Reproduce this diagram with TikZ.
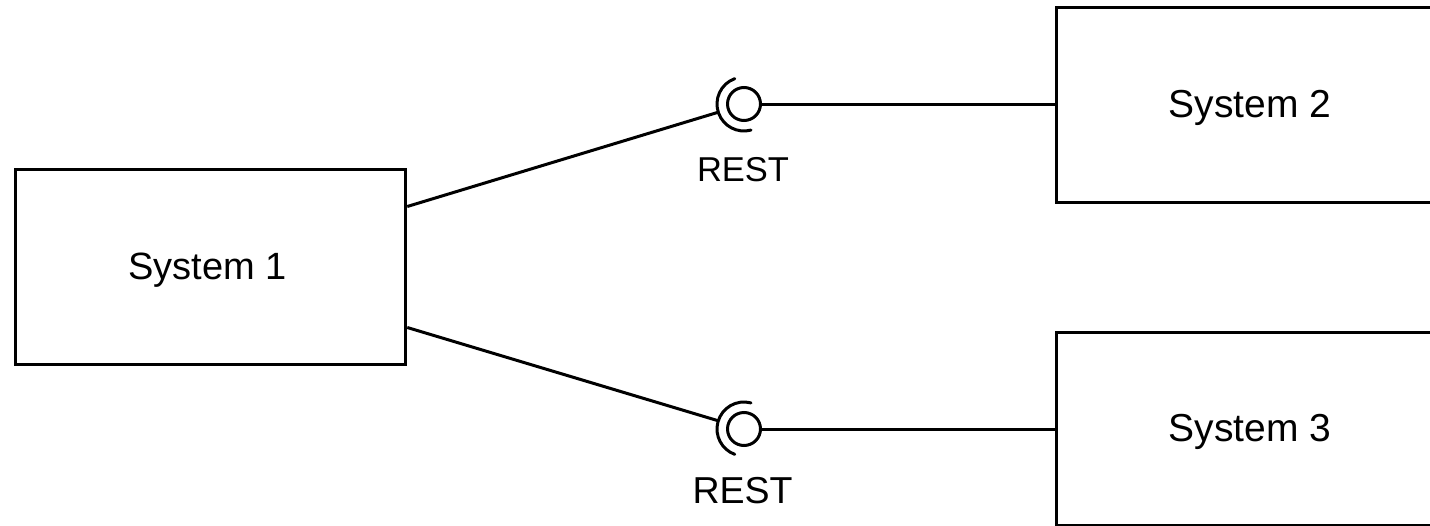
\documentclass[tikz,border=0pt]{standalone}
\usepackage{fontspec}
\setmainfont{Liberation Sans}
\usetikzlibrary{calc}
\tikzset{
  box/.style={draw=black,line width=3pt,minimum width=390.5pt,minimum height=195pt,inner sep=0pt,font=\fontsize{38}{40}\selectfont,text=black,text height=34pt,text depth=8pt},
  ball/.style={circle,draw=black,line width=3pt,minimum size=33pt,inner sep=0pt},
  link/.style={draw=black,line width=3pt},
  socket/.style={draw=black,line width=3pt,line cap=round},
  lbl/.style={inner sep=0pt,text=black}
}
\begin{document}
\begin{tikzpicture}[x=1pt,y=-1pt]
\useasboundingbox (0,0) rectangle (1430,525);
\clip (0,0) rectangle (1430,525);
\fill[white] (0,0) rectangle (1430,525);
\node[box] (s1) at (210.5,266.5) {\hspace{-6pt}System 1};
\node[box,font=\fontsize{39}{40}\selectfont] (s2) at (1251.5,104.5) {\hspace{-3pt}System 2};
\node[box,font=\fontsize{39}{40}\selectfont,minimum height=193pt] (s3) at (1251.5,428.5) {\hspace{-3pt}System 3};
\node[ball] (b1) at (744,104) {};
\node[ball] (b2) at (744,429) {};
\coordinate (e1) at ($(s1.north east)+(0,39)$);
\coordinate (e2) at ($(s1.south east)+(0,-38)$);
\coordinate (c1) at (719,112);
\coordinate (c2) at (719,421);
\draw[link] (e1) -- (c1);
\draw[link] (e2) -- (c2);
\draw[link] (b1.east) -- (b1.east -| s2.west);
\draw[link] (b2.east) -- (b2.east -| s3.west);
\draw[socket] (b1.center) ++(110:27 and -27) arc[start angle=-110,end angle=-285,radius=27];
\draw[socket] (b2.center) ++(75:27 and -27) arc[start angle=-75,end angle=-250,radius=27];
\node[lbl,font=\fontsize{34.5}{38}\selectfont] (r1) at (743,170) {REST};
\node[lbl,font=\fontsize{37.5}{40}\selectfont] (r2) at (742.5,491) {REST};
\end{tikzpicture}
\end{document}
